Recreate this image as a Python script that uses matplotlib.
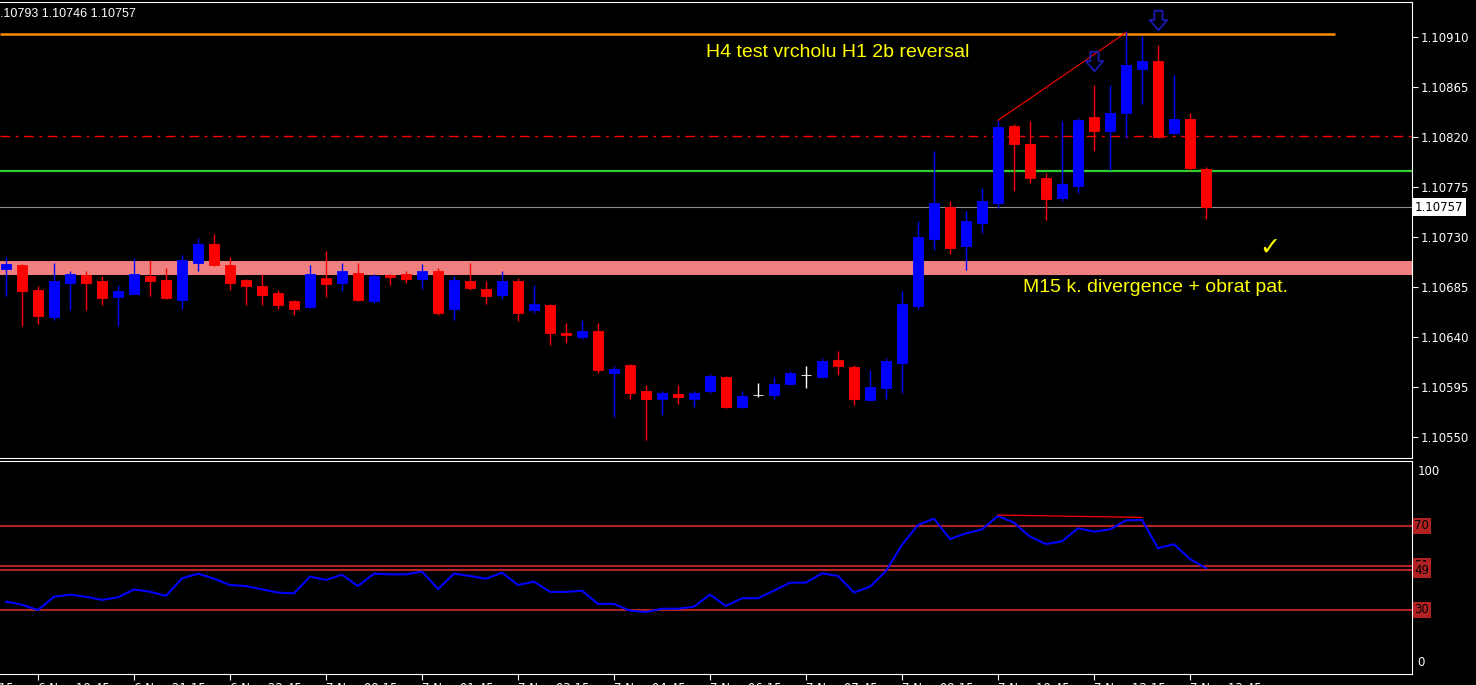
import matplotlib
matplotlib.use("Agg")
import matplotlib.pyplot as plt
from matplotlib import transforms
from matplotlib.path import Path

# EURUSD M15, bars from 6 Nov 19:15 to 7 Nov 14:00
OPEN = [1.10701, 1.10705, 1.10682, 1.10658, 1.10689, 1.10696, 1.10690, 1.10676, 1.10679, 1.10695,
        1.10691, 1.10673, 1.10707, 1.10724, 1.10705, 1.10691, 1.10686, 1.10680, 1.10672, 1.10667,
        1.10693, 1.10689, 1.10698, 1.10672, 1.10696, 1.10697, 1.10692, 1.10699, 1.10665, 1.10690,
        1.10683, 1.10678, 1.10690, 1.10664, 1.10669, 1.10644, 1.10640, 1.10645, 1.10608, 1.10615,
        1.10591, 1.10584, 1.10589, 1.10584, 1.10591, 1.10604, 1.10577, 1.10588, 1.10588, 1.10598,
        1.10606, 1.10604, 1.10619, 1.10613, 1.10583, 1.10594, 1.10617, 1.10668, 1.10728, 1.10757,
        1.10722, 1.10743, 1.10761, 1.10830, 1.10814, 1.10783, 1.10765, 1.10776, 1.10838, 1.10825,
        1.10842, 1.10881, 1.10888, 1.10824, 1.10836, 1.10791]
HIGH = [1.10712, 1.10706, 1.10686, 1.10707, 1.10699, 1.10699, 1.10695, 1.10687, 1.10711, 1.10709,
        1.10702, 1.10714, 1.10729, 1.10733, 1.10712, 1.10692, 1.10697, 1.10682, 1.10673, 1.10705,
        1.10717, 1.10707, 1.10707, 1.10697, 1.10697, 1.10699, 1.10706, 1.10702, 1.10695, 1.10707,
        1.10690, 1.10699, 1.10693, 1.10687, 1.10670, 1.10653, 1.10655, 1.10653, 1.10614, 1.10616,
        1.10597, 1.10591, 1.10597, 1.10591, 1.10607, 1.10605, 1.10591, 1.10599, 1.10604, 1.10609,
        1.10614, 1.10621, 1.10627, 1.10615, 1.10610, 1.10621, 1.10681, 1.10744, 1.10807, 1.10762,
        1.10753, 1.10774, 1.10835, 1.10832, 1.10834, 1.10788, 1.10834, 1.10837, 1.10867, 1.10867,
        1.10915, 1.10911, 1.10903, 1.10876, 1.10842, 1.10793]
LOW = [1.10677, 1.10650, 1.10652, 1.10655, 1.10664, 1.10664, 1.10669, 1.10650, 1.10679, 1.10677,
       1.10674, 1.10665, 1.10699, 1.10704, 1.10682, 1.10669, 1.10669, 1.10665, 1.10660, 1.10666,
       1.10676, 1.10681, 1.10672, 1.10671, 1.10687, 1.10689, 1.10683, 1.10660, 1.10655, 1.10682,
       1.10670, 1.10674, 1.10654, 1.10662, 1.10633, 1.10635, 1.10638, 1.10608, 1.10568, 1.10584,
       1.10547, 1.10570, 1.10580, 1.10577, 1.10590, 1.10576, 1.10576, 1.10586, 1.10584, 1.10597,
       1.10594, 1.10603, 1.10606, 1.10579, 1.10582, 1.10584, 1.10590, 1.10665, 1.10718, 1.10715,
       1.10700, 1.10734, 1.10756, 1.10771, 1.10779, 1.10745, 1.10762, 1.10770, 1.10807, 1.10790,
       1.10819, 1.10850, 1.10819, 1.10823, 1.10790, 1.10746]
CLOSE = [1.10706, 1.10681, 1.10659, 1.10690, 1.10697, 1.10689, 1.10675, 1.10681, 1.10697, 1.10690,
         1.10675, 1.10709, 1.10724, 1.10705, 1.10689, 1.10686, 1.10678, 1.10669, 1.10665, 1.10697,
         1.10688, 1.10699, 1.10673, 1.10695, 1.10694, 1.10692, 1.10699, 1.10662, 1.10691, 1.10684,
         1.10677, 1.10690, 1.10662, 1.10670, 1.10644, 1.10642, 1.10645, 1.10610, 1.10611, 1.10590,
         1.10584, 1.10590, 1.10586, 1.10590, 1.10605, 1.10577, 1.10587, 1.10588, 1.10598, 1.10608,
         1.10606, 1.10618, 1.10614, 1.10584, 1.10595, 1.10618, 1.10670, 1.10730, 1.10761, 1.10720,
         1.10744, 1.10762, 1.10829, 1.10814, 1.10783, 1.10764, 1.10778, 1.10835, 1.10825, 1.10842,
         1.10885, 1.10888, 1.10820, 1.10836, 1.10792, 1.10757]
RSI = [34.0, 32.5, 30.0, 36.3, 37.3, 36.3, 34.8, 36.0, 39.8, 38.7,
       36.7, 45.1, 47.3, 44.9, 41.9, 41.4, 39.8, 38.3, 37.9, 45.9,
       44.3, 46.8, 41.4, 47.3, 47.0, 47.0, 48.3, 40.0, 47.3, 46.2,
       44.9, 47.8, 41.9, 43.5, 38.6, 38.6, 39.2, 32.9, 32.9, 29.7,
       29.0, 30.6, 30.6, 31.6, 37.3, 31.9, 35.6, 35.6, 39.2, 43.0,
       43.0, 47.5, 46.2, 38.3, 41.1, 48.6, 61.0, 70.5, 73.5, 63.8,
       66.5, 68.4, 74.8, 71.6, 64.9, 61.4, 62.7, 68.9, 67.3, 68.4,
       72.7, 72.9, 59.4, 61.3, 54.3, 49.9]

BID = 1.10757
ORANGE_LEVEL = 1.10913
RED_LEVEL = 1.10821
GREEN_LEVEL = 1.10789
ZONE = (1.10696, 1.10708)
RSI_LEVELS = [70, 51, 49, 30]
PRICE_TICKS = [1.10550, 1.10595, 1.10640, 1.10685, 1.10730, 1.10775, 1.10820, 1.10865, 1.10910]

TIME_IDX = [2, 8, 14, 20, 26, 32, 38, 44, 50, 56, 62, 68, 74]
TIME_LABELS = ["6 Nov 19:45", "6 Nov 21:15", "6 Nov 22:45", "7 Nov 00:15", "7 Nov 01:45",
               "7 Nov 03:15", "7 Nov 04:45", "7 Nov 06:15", "7 Nov 07:45", "7 Nov 09:15",
               "7 Nov 10:45", "7 Nov 12:15", "7 Nov 13:45"]

# trend line over the highs, RSI divergence line, marks
TREND = ([62, 70], [1.10835, 1.10914])
RSI_DIV = ([62, 71], [75.2, 74.1])
ARROW_X = [68, 72]
ARROW_Y = [1.10888, 1.10925]

plt.rcParams["font.family"] = ["DejaVu Sans"]

W, H = 1476, 685
fig = plt.figure(figsize=(W / 100, H / 100), dpi=100, facecolor="black")
ax = fig.add_axes([0, 1 - 458 / H, 1412 / W, 456 / H], facecolor="black")
ax2 = fig.add_axes([0, 1 - 674 / H, 1412 / W, 213 / H], facecolor="black")

n = len(OPEN)
xs = list(range(n))
cols = []
for o, c in zip(OPEN, CLOSE):
    if c > o:
        cols.append("#0000ff")
    elif c < o:
        cols.append("#ff0000")
    else:
        cols.append("white")

# levels and zone
ax.axhspan(ZONE[0], ZONE[1], color="#f08080", lw=0, zorder=1)
ax.axhline(RED_LEVEL, color="red", lw=1, ls=(0, (7, 4, 2, 4)), zorder=1)
ax.axhline(GREEN_LEVEL, color="#32cd32", lw=1.6, zorder=1)
ax.axhline(BID, color="#8c8c8c", lw=0.8, zorder=1)
ax.hlines(ORANGE_LEVEL, -0.375, 83.06, color="#ff8c00", lw=1.8, zorder=1)

# candles
ax.vlines(xs, LOW, HIGH, colors=cols, lw=1.0, zorder=3)
bottoms = [min(o, c) for o, c in zip(OPEN, CLOSE)]
heights = [abs(c - o) for o, c in zip(OPEN, CLOSE)]
ax.bar(xs, heights, bottom=bottoms, width=0.64, color=cols, edgecolor=cols, lw=0.6, zorder=4)

ax.plot(TREND[0], TREND[1], color="red", lw=0.8, zorder=5)

# hollow down arrows
arrow = Path([(-0.42, 1.0), (0.42, 1.0), (0.42, 0.05), (0.9, 0.05), (0.0, -1.0),
              (-0.9, 0.05), (-0.42, 0.05), (-0.42, 1.0)], closed=True)
ax.plot(ARROW_X, ARROW_Y, ls="none", marker=arrow, markersize=14, mfc="none",
        mec="#1a1ab4", mew=1.3, zorder=6)

ax.text(79, 1.10720, "\u2713", color="yellow", fontsize=18, fontweight="bold",
        ha="center", va="center", zorder=6)
ax.text(43.75, 1.108923, "H4 test vrcholu H1 2b reversal", color="yellow",
        fontsize=14, family="Liberation Sans", va="baseline", ha="left", zorder=6)
ax.text(63.54, 1.106802, "M15 k. divergence + obrat pat.", color="yellow",
        fontsize=14, family="Liberation Sans", va="baseline", ha="left", zorder=6)

ax.set_xlim(-0.375, 87.875)
ax.set_ylim(1.105311, 1.109415)
ax.set_xticks([])
ax.yaxis.tick_right()
ax.set_yticks(PRICE_TICKS)
ax.set_yticklabels([f"{p:.5f}" for p in PRICE_TICKS])
ax.tick_params(axis="y", colors="white", length=4, width=0.8, labelsize=8.5, pad=2)
for side in ["top", "right", "bottom"]:
    ax.spines[side].set_color("white")
ax.spines["left"].set_visible(False)

tr = transforms.blended_transform_factory(ax.transAxes, ax.transData)
ax.text(1.0022, BID, f"{BID:.5f}", transform=tr, color="black", fontsize=8.5, va="center",
        ha="left", bbox=dict(fc="white", ec="none", pad=1.8), zorder=7, clip_on=False)

fig.text(0.0, 1 - 14 / H, ".10793 1.10746 1.10757", color="white", fontsize=9,
         family="Liberation Sans", va="center", ha="left")

# RSI panel
for lv in RSI_LEVELS:
    ax2.axhline(lv, color="#b22222", lw=1.5, zorder=1)
ax2.plot(xs, RSI, color="#0000ff", lw=1.5, zorder=3)
ax2.plot(RSI_DIV[0], RSI_DIV[1], color="red", lw=0.9, zorder=4)
ax2.set_xlim(-0.375, 87.875)
ax2.set_ylim(-0.48, 100.95)
ax2.set_yticks([])
ax2.set_xticks(TIME_IDX)
ax2.set_xticklabels(TIME_LABELS, ha="left")
ax2.tick_params(axis="x", colors="white", length=4, width=0.8, labelsize=8.5, pad=2)
for side in ["top", "right", "bottom"]:
    ax2.spines[side].set_color("white")
ax2.spines["left"].set_visible(False)
ax2.annotate("6 Nov 18:15", xy=(-4, 0), xycoords=("data", "axes fraction"), xytext=(0, -6),
             textcoords="offset points", color="white", fontsize=8.5, ha="left", va="top",
             annotation_clip=False)

tr2 = transforms.blended_transform_factory(ax2.transAxes, ax2.transData)
ax2.text(1.004, 99, "100", transform=tr2, color="white", fontsize=8.5, va="top", ha="left")
ax2.text(1.004, 2, "0", transform=tr2, color="white", fontsize=8.5, va="bottom", ha="left")
for lv in RSI_LEVELS:
    ax2.text(1.0017, lv, str(lv), transform=tr2, color="black", fontsize=8.5, va="center",
             ha="left", bbox=dict(fc="#b22222", ec="none", pad=1.2), clip_on=False)

fig.savefig("out.png", dpi=100, facecolor="black")
